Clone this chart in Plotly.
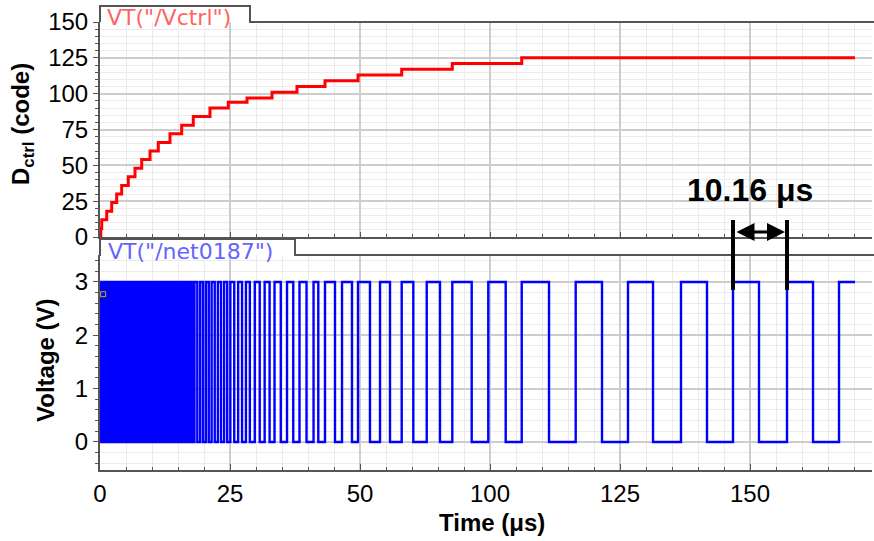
import plotly.graph_objects as go

W, H = 874, 541

# ---------------- data ----------------
# D_ctrl staircase: code values and the time (us) at which each code starts
dctrl_codes = [0, 6, 12, 18, 24, 30, 36, 42, 48, 54, 60, 66, 72, 78, 84, 90, 94, 97,
               101, 105, 109, 113, 117, 121, 125]
dctrl_start_us = [0.0, 0.15, 0.33, 1.29, 2.25, 3.21, 4.17, 5.44, 6.73, 8.02, 9.62, 11.21,
                  13.46, 15.71, 17.94, 21.15, 24.67, 28.27, 33.08, 37.88, 43.27, 49.62,
                  58.02, 67.75, 81.10]
sim_end_us = 145.2

# Oscillator output: estimated half-period (us) during each early code step (dense region)
early_half_period_us = [0.075, 0.075, 0.16, 0.16, 0.16, 0.16, 0.2, 0.2, 0.2, 0.25, 0.25,
                        0.3, 0.3, 0.35, 0.55, 0.6, 0.75, 0.95, 1.2, 1.35]
# Oscillator output: resolvable edge times (us), first one is a falling edge
late_edges_us = [41.98, 43.27, 45.19, 46.54, 48.46, 49.62, 51.92, 53.85, 55.77, 58.02,
                 60.25, 62.83, 65.38, 67.75, 71.48, 74.67, 78.02, 81.10, 86.35, 91.48,
                 96.54, 101.54, 106.35, 111.73, 116.73, 121.73, 126.73, 132.12, 137.12,
                 142.12]
v_low, v_high = 0.0, 3.0

x_tickvals = [0, 25, 50, 75, 100, 125]
x_ticktext = ["0", "25", "50", "100", "125", "150"]
top_y_ticks = [0, 25, 50, 75, 100, 125, 150]
bot_y_ticks = [0, 1, 2, 3]

period_marker_us = [121.73, 132.12]
period_label = "10.16 μs"

# ---------------- build traces ----------------
stair_x = dctrl_start_us + [sim_end_us]
stair_y = dctrl_codes + [dctrl_codes[-1]]


def step_index(t):
    i = 0
    for k, s in enumerate(dctrl_start_us):
        if t >= s:
            i = k
    return i


wx, wy = [0.0], [v_low]
state = 0
t = 0.0
while True:
    h = early_half_period_us[min(step_index(t), len(early_half_period_us) - 1)]
    tn = t + h
    if tn >= late_edges_us[0] - 0.3:
        break
    wx += [tn, tn]
    wy += [v_high if state else v_low, v_low if state else v_high]
    state = 1 - state
    t = tn
if state == 0:  # must be high before first (falling) late edge
    wx = wx[:-2]
    wy = wy[:-2]
    state = 1
for e in late_edges_us:
    wx += [e, e]
    wy += [v_high if state else v_low, v_low if state else v_high]
    state = 1 - state
wx.append(sim_end_us)
wy.append(v_high if state else v_low)


def px(X):
    return X / W


def py(Y):
    return 1 - Y / H


fig = go.Figure()
fig.add_trace(go.Scatter(x=stair_x, y=stair_y, mode="lines", line=dict(color="#ff0000", width=3, shape="hv"),
                         xaxis="x", yaxis="y", hoverinfo="skip"))
fig.add_trace(go.Scatter(x=wx, y=wy, mode="lines", line=dict(color="#0000ff", width=2.4),
                         xaxis="x2", yaxis="y2", hoverinfo="skip"))
fig.add_trace(go.Scatter(x=[0.6], y=[2.77], mode="markers",
                         marker=dict(symbol="square-open", color="#c8b400", size=5, line=dict(width=1)),
                         xaxis="x2", yaxis="y2", hoverinfo="skip"))

XR = [0, (872 - 100) / 5.2]
grid_major = "#cdcdcd"
grid_minor = "#ebebeb"
axis_col = "#555555"
tick_font = dict(family="Arial, Liberation Sans, sans-serif", size=24, color="#000")

common_x = dict(domain=[px(100), px(872)], range=XR, tickmode="array", tickvals=x_tickvals,
                showgrid=True, automargin=False,
                gridcolor=grid_major, gridwidth=1.5, zeroline=False, showline=True,
                linecolor=axis_col, linewidth=2,
                minor=dict(dtick=5, showgrid=True, gridcolor=grid_minor, gridwidth=1,
                           ticks="inside", ticklen=3, tickcolor=axis_col))

fig.update_layout(
    template="none",
    font=dict(family="Arial, Liberation Sans, sans-serif", color="#000"),
    width=W, height=H, margin=dict(l=0, r=0, t=0, b=0, autoexpand=False),
    paper_bgcolor="white", plot_bgcolor="white", showlegend=False,
    xaxis=dict(anchor="y", showticklabels=False, ticks="inside", ticklen=5, tickcolor=axis_col, **common_x),
    yaxis=dict(domain=[py(237), py(22)], range=[0, 150], tickmode="array", tickvals=top_y_ticks,
               tickfont=tick_font, automargin=False,
               ticks="outside", ticklen=5, tickcolor=axis_col, showgrid=True, gridcolor=grid_major,
               gridwidth=1.5, zeroline=False, showline=True, linecolor=axis_col, linewidth=2,
               ticklabelstandoff=0,
               minor=dict(dtick=5, showgrid=True, gridcolor=grid_minor, gridwidth=1, ticks="outside",
                          ticklen=3, tickcolor=axis_col)),
    xaxis2=dict(anchor="y2", ticktext=x_ticktext, tickfont=tick_font, ticks="inside", ticklen=6,
                tickcolor=axis_col, ticklabelstandoff=1, **common_x),
    yaxis2=dict(domain=[py(470), py(255)], range=[-0.525, 3.505], tickmode="array", tickvals=bot_y_ticks,
                tickfont=tick_font, automargin=False,
                ticks="outside", ticklen=5, tickcolor=axis_col, showgrid=True, gridcolor=grid_major,
                gridwidth=1.5, zeroline=False, showline=True, linecolor=axis_col, linewidth=2,
                ticklabelstandoff=0,
                minor=dict(dtick=0.2, showgrid=True, gridcolor=grid_minor, gridwidth=1, ticks="outside",
                           ticklen=3, tickcolor=axis_col)),
)

# tabs
tab_line = dict(color=axis_col, width=2)
fig.add_shape(type="path", xref="paper", yref="paper", line=tab_line,
              path=f"M {px(100)},{py(22)} L {px(100)},{py(6)} L {px(250)},{py(6)} L {px(250)},{py(22)} L {px(874)},{py(22)}")
fig.add_shape(type="path", xref="paper", yref="paper", line=tab_line,
              path=f"M {px(100)},{py(256)} L {px(100)},{py(239)} L {px(295)},{py(239)} L {px(295)},{py(255)} L {px(874)},{py(255)}")

# measurement bars
for xm in period_marker_us:
    fig.add_shape(type="line", xref="x2", yref="paper", x0=xm, x1=xm, y0=py(220), y1=py(290),
                  line=dict(color="black", width=4))

ann_font_bold = dict(family="Arial, Liberation Sans, sans-serif", color="#000")
annotations = [
    dict(text='VT("/Vctrl")', x=px(105), y=py(18), xref="paper", yref="paper", xanchor="left",
         yanchor="middle", showarrow=False, font=dict(family="DejaVu Sans", size=22, color="#ff6464")),
    dict(text='VT("/net0187")', x=px(106), y=py(251), xref="paper", yref="paper", xanchor="left",
         yanchor="middle", showarrow=False, font=dict(family="DejaVu Sans", size=22, color="#6464ff")),
    dict(text="<b>D<sub>ctrl</sub> (code)</b>", x=px(22), y=py(124), xref="paper", yref="paper",
         xanchor="center", yanchor="middle",
         textangle=-90, showarrow=False, font=dict(size=24, **ann_font_bold)),
    dict(text="<b>Voltage (V)</b>", x=px(45), y=py(360), xref="paper", yref="paper",
         xanchor="center", yanchor="middle",
         textangle=-90, showarrow=False, font=dict(size=24, **ann_font_bold)),
    dict(text="<b>Time (μs)</b>", x=px(492), y=py(522), xref="paper", yref="paper",
         xanchor="center", yanchor="middle",
         showarrow=False, font=dict(size=24, **ann_font_bold)),
    dict(text=f"<b>{period_label}</b>", x=px(750), y=py(190), xref="paper", yref="paper",
         xanchor="center", yanchor="middle",
         showarrow=False, font=dict(size=32, **ann_font_bold)),
    # double-headed arrow between the two measurement bars
    dict(x=period_marker_us[1], y=py(232), xref="x2", yref="paper",
         ax=period_marker_us[0], ay=0, axref="x2", ayref="pixel", text="",
         showarrow=True, arrowside="end+start", arrowhead=2, arrowsize=1.2,
         arrowwidth=3, arrowcolor="black", standoff=2, startstandoff=2),
]
fig.update_layout(annotations=annotations)

fig.write_html("out.html", config={"displayModeBar": False},
               post_script="document.body.style.margin='0';document.body.style.padding='0';")
